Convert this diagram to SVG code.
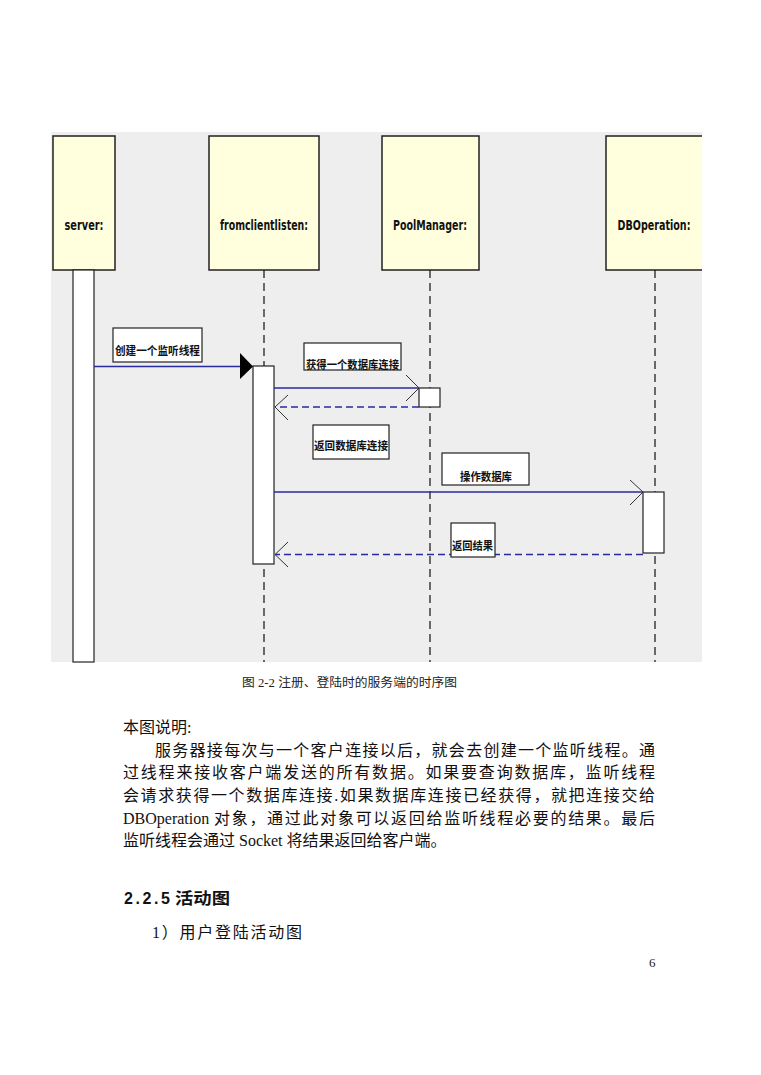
<svg xmlns="http://www.w3.org/2000/svg" width="761" height="1075" viewBox="0 0 761 1075">
<style>
.head{fill:#ffffde;stroke:#222;stroke-width:1.5}
.name{font-family:"DejaVu Sans Condensed","DejaVu Sans",sans-serif;font-weight:bold;font-size:14px;fill:#111}
.life{stroke:#111;stroke-width:1.2;stroke-dasharray:8 5;fill:none}
.act{fill:#fff;stroke:#222;stroke-width:1.2}
.msg{stroke:#2a2aa0;stroke-width:1.5;fill:none}
.ret{stroke:#2a2aa0;stroke-width:1.5;fill:none;stroke-dasharray:7 4}
.arm{stroke:#333;stroke-width:1;fill:none}
.lbox{fill:#fff;stroke:#222;stroke-width:1.2}
.ltxt{font-family:"Noto Sans CJK SC",sans-serif;font-size:11.5px;font-weight:bold;fill:#111}
.body{font-family:"Liberation Serif","Noto Sans CJK SC",serif;font-size:16px;fill:#111}
</style>
<rect x="51" y="132" width="651" height="530" fill="#eeeeee"/>
<g id="server">
<rect class="head" x="53" y="136" width="62" height="134"/>
<text class="name" x="84" y="230" text-anchor="middle" textLength="39" lengthAdjust="spacingAndGlyphs">server:</text>
<rect class="act" x="73" y="270" width="21" height="392"/>
</g>
<g id="fromclientlisten">
<rect class="head" x="209" y="136" width="110" height="134"/>
<text class="name" x="264" y="230" text-anchor="middle" textLength="88" lengthAdjust="spacingAndGlyphs">fromclientlisten:</text>
<line class="life" x1="264" y1="270" x2="264" y2="662"/>
<rect class="act" x="253" y="366" width="21" height="198"/>
</g>
<g id="poolmanager">
<rect class="head" x="382" y="136" width="97" height="134"/>
<text class="name" x="430" y="230" text-anchor="middle" textLength="74" lengthAdjust="spacingAndGlyphs">PoolManager:</text>
<line class="life" x1="430" y1="270" x2="430" y2="662"/>
<rect class="act" x="419" y="388" width="21" height="19"/>
</g>
<g id="dboperation">
<path class="head" d="M702,136 H606 V270 H702"/>
<text class="name" x="654" y="230" text-anchor="middle" textLength="73" lengthAdjust="spacingAndGlyphs">DBOperation:</text>
<line class="life" x1="655" y1="270" x2="655" y2="662"/>
<rect class="act" x="643" y="492" width="21" height="61"/>
</g>
<g id="connectors">
<line class="msg" x1="94" y1="366.5" x2="241" y2="366.5"/>
<polygon points="240,353 253,366.5 240,379" fill="#000"/>
<line class="msg" x1="274" y1="388" x2="419" y2="388"/>
<polyline class="arm" points="406,375 419,388 406,401"/>
<line class="ret" x1="419" y1="407" x2="275" y2="407"/>
<polyline class="arm" points="288,395 275,407 288,420"/>
<line class="msg" x1="274" y1="492" x2="643" y2="492"/>
<polyline class="arm" points="630,480 643,492 630,505"/>
<line class="ret" x1="643" y1="554.5" x2="275" y2="554.5"/>
<polyline class="arm" points="288,542 275,554.5 288,567"/>
</g>
<g id="label-create">
<rect class="lbox" x="113" y="328" width="89" height="34"/>
<text class="ltxt" x="115" y="355" textLength="85" lengthAdjust="spacingAndGlyphs">创建一个监听线程</text>
</g>
<g id="label-get">
<rect class="lbox" x="304" y="343" width="97" height="27"/>
<text class="ltxt" x="306" y="369" textLength="93" lengthAdjust="spacingAndGlyphs">获得一个数据库连接</text>
</g>
<g id="label-return-conn">
<rect class="lbox" x="313" y="425" width="76" height="34"/>
<text class="ltxt" x="314" y="450" textLength="74" lengthAdjust="spacingAndGlyphs">返回数据库连接</text>
</g>
<g id="label-operate">
<rect class="lbox" x="442" y="453" width="87" height="32"/>
<text class="ltxt" x="460" y="481" textLength="52" lengthAdjust="spacingAndGlyphs">操作数据库</text>
</g>
<g id="label-result">
<rect class="lbox" x="451" y="523" width="44" height="34"/>
<text class="ltxt" x="452" y="550" textLength="41" lengthAdjust="spacingAndGlyphs">返回结果</text>
</g>
<text x="242" y="687" font-family="Liberation Serif,Noto Sans CJK SC,serif" font-size="12" fill="#222" textLength="215" lengthAdjust="spacingAndGlyphs">图 2-2 注册、登陆时的服务端的时序图</text>
<text class="body" x="123" y="733">本图说明:</text>
<text class="body" x="155" y="756" textLength="500" lengthAdjust="spacing">服务器接每次与一个客户连接以后，就会去创建一个监听线程。通</text>
<text class="body" x="123" y="778" textLength="532" lengthAdjust="spacing">过线程来接收客户端发送的所有数据。如果要查询数据库，监听线程</text>
<text class="body" x="123" y="801" textLength="532" lengthAdjust="spacing">会请求获得一个数据库连接.如果数据库连接已经获得，就把连接交给</text>
<text class="body" x="123" y="824">DBOperation<tspan x="214" textLength="441" lengthAdjust="spacing">对象，通过此对象可以返回给监听线程必要的结果。最后</tspan></text>
<text class="body" x="123" y="846">监听线程会通过 Socket 将结果返回给客户端。</text>
<text x="124" y="904" font-family="Liberation Sans,Noto Sans CJK SC,sans-serif" font-size="16" font-weight="bold" fill="#111"><tspan textLength="46" lengthAdjust="spacing">2.2.5</tspan><tspan x="175" textLength="55" lengthAdjust="spacingAndGlyphs">活动图</tspan></text>
<text class="body" x="152" y="938" textLength="150" lengthAdjust="spacing">1）用户登陆活动图</text>
<text x="649" y="967" font-family="Liberation Serif,serif" font-size="13" fill="#222">6</text>
</svg>
